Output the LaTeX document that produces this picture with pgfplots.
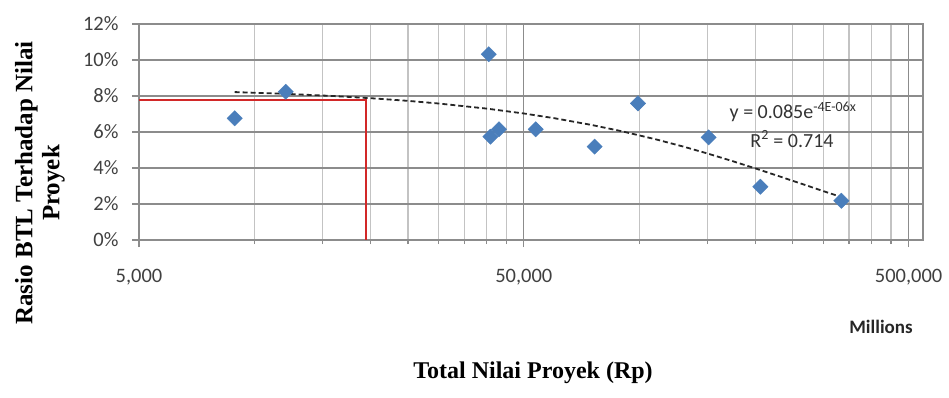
\documentclass[border=0pt]{standalone}
\usepackage{pgfplots}
\pgfplotsset{compat=1.18}
\usepackage{fontspec}
\setmainfont{Carlito}
\newfontfamily\tnr{Liberation Serif}
\definecolor{ptblue}{RGB}{74,126,187}
\definecolor{redln}{RGB}{210,40,40}
\definecolor{gridmaj}{RGB}{140,140,140}
\definecolor{gridmin}{RGB}{195,195,195}
\begin{document}
\begin{tikzpicture}[x=1pt,y=1pt]
\path[use as bounding box] (0,0) rectangle (949,397);
\begin{axis}[
  at={(139pt,157pt)}, anchor=south west,
  scale only axis, width=784pt, height=216pt,
  xmode=log, xmin=5000, xmax=545000, ymin=0, ymax=12,
  xtick={5000,50000,500000},
  xticklabels={{5,000},{50,000},{500,000}},
  minor xtick={10000,15000,20000,25000,30000,35000,40000,45000,100000,150000,200000,250000,300000,350000,400000,450000},
  ytick={0,2,4,6,8,10,12},
  yticklabel={\pgfmathprintnumber{\tick}\%},
  /pgf/number format/assume math mode=true,
  tick label style={font=\fontsize{20.5}{24}\selectfont, text=black!75},
  xmajorgrids, xminorgrids, ymajorgrids,
  major grid style={draw=gridmaj, line width=1.3pt},
  minor grid style={draw=gridmin, line width=1.1pt},
  axis line style={draw=gridmaj, line width=1.3pt},
  tick align=outside, tick pos=left,
  major tick length=7pt, minor tick length=4pt,
  every tick/.style={draw=gridmaj, line width=1.2pt},
  xticklabel style={yshift=-19pt},
  yticklabel style={xshift=-10pt},
]
\addplot[draw=redln, line width=1.9pt] coordinates {(5000,7.78) (19400,7.78) (19400,0)};
\addplot[draw=black!85, line width=1.8pt, dash pattern=on 5pt off 3pt] coordinates {
(8865,8.218) (12000,8.121) (16000,7.999) (20000,7.878) (25000,7.730) (30000,7.584)
(40000,7.301) (50000,7.029) (60000,6.767) (75000,6.392) (90000,6.038) (110000,5.596)
(130000,5.187) (150000,4.807) (175000,4.371) (200000,3.975) (230000,3.547)
(260000,3.165) (300000,2.718) (334300,2.386)};
\addplot[only marks, mark=square*, mark size=5.4pt,
  mark options={rotate=45, fill=ptblue, draw=ptblue}] coordinates {
(8865,6.76) (12030,8.24) (40520,10.32) (40940,5.74) (43090,6.15) (53680,6.15)
(76400,5.19) (99000,7.59) (151100,5.70) (205900,2.96) (334300,2.18)};
\end{axis}
\node[rotate=90, align=center, font=\tnr\bfseries\fontsize{25}{27}\selectfont] at (40,214) {Rasio BTL Terhadap Nilai\\Proyek};
\node[font=\tnr\bfseries\fontsize{24}{24}\selectfont] at (533,24) {Total Nilai Proyek (Rp)};
\node[font=\bfseries\fontsize{19}{19}\selectfont, text=black!85] at (881,70) {Millions};
\node[font=\fontsize{20}{20}\selectfont, text=black!80] at (793,285) {y = 0.085e\textsuperscript{-4E-06x}};
\node[font=\fontsize{20}{20}\selectfont, text=black!80] at (792,258) {R\textsuperscript{2} = 0.714};
\end{tikzpicture}
\end{document}
